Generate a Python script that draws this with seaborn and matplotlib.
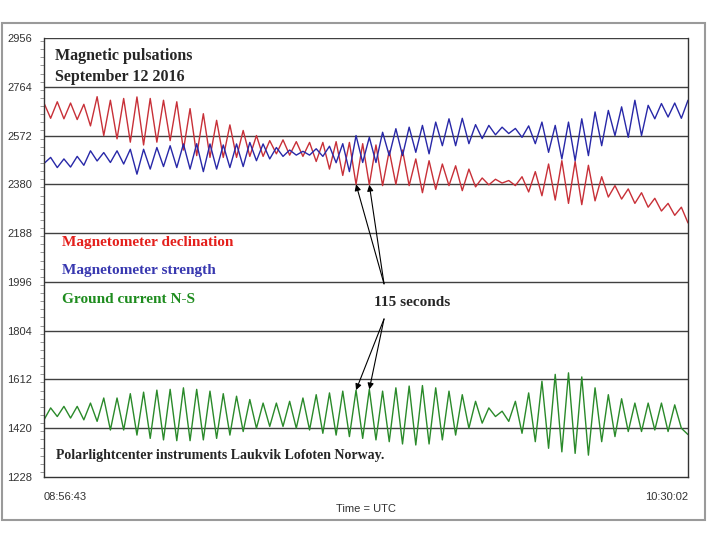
import numpy as np
import pandas as pd
import seaborn as sns
import matplotlib.pyplot as plt
from matplotlib.patches import Rectangle
from matplotlib.ticker import MultipleLocator

# Time span 08:56:43 .. 10:30:02 (seconds), one sample per half-period of the pulsation
T_START = "08:56:43"
T_END = "10:30:02"
SPAN = 5599
N_SAMPLES = 98
t = np.linspace(0, SPAN, N_SAMPLES)

# Extrema (alternating peak/trough)
declination = [
    2700, 2640, 2705, 2638, 2700, 2635, 2695, 2610, 2725, 2572,
    2711, 2559, 2718, 2546, 2724, 2535, 2718, 2546, 2711, 2552,
    2705, 2515, 2678, 2493, 2658, 2486, 2632, 2486, 2614, 2486,
    2592, 2490, 2572, 2490, 2552, 2500, 2555, 2495, 2548, 2490,
    2545, 2470, 2545, 2440, 2548, 2415, 2545, 2380, 2540, 2378,
    2535, 2375, 2512, 2380, 2515, 2375, 2480, 2347, 2473, 2360,
    2460, 2375, 2453, 2355, 2440, 2370, 2405, 2378, 2400, 2385,
    2395, 2375, 2410, 2350, 2430, 2335, 2460, 2318, 2473, 2305,
    2470, 2300, 2455, 2315, 2410, 2330, 2375, 2322, 2362, 2305,
    2347, 2290, 2325, 2275, 2305, 2258, 2290, 2228,
]
strength = [
    2462, 2486, 2446, 2480, 2448, 2490, 2455, 2512, 2472, 2505,
    2466, 2512, 2460, 2518, 2420, 2518, 2440, 2525, 2450, 2532,
    2446, 2539, 2440, 2540, 2430, 2539, 2440, 2535, 2446, 2539,
    2450, 2545, 2473, 2539, 2480, 2525, 2490, 2515, 2495, 2510,
    2495, 2520, 2490, 2530, 2465, 2540, 2430, 2572, 2466, 2565,
    2466, 2585, 2493, 2599, 2493, 2605, 2506, 2612, 2500, 2625,
    2532, 2638, 2532, 2640, 2540, 2615, 2560, 2612, 2575, 2605,
    2580, 2600, 2565, 2610, 2540, 2625, 2506, 2612, 2480, 2625,
    2473, 2638, 2493, 2665, 2532, 2671, 2572, 2685, 2565, 2711,
    2572, 2691, 2638, 2698, 2645, 2700, 2640, 2711,
]
ground_current = [
    1453, 1500, 1466, 1506, 1460, 1506, 1453, 1519, 1447, 1539,
    1413, 1539, 1413, 1556, 1393, 1562, 1380, 1570, 1374, 1573,
    1371, 1579, 1371, 1573, 1374, 1566, 1380, 1556, 1393, 1546,
    1407, 1533, 1420, 1519, 1427, 1519, 1427, 1526, 1420, 1539,
    1413, 1552, 1400, 1559, 1393, 1566, 1387, 1570, 1380, 1573,
    1374, 1566, 1367, 1579, 1358, 1586, 1354, 1588, 1358, 1579,
    1374, 1566, 1393, 1552, 1420, 1526, 1440, 1500, 1466, 1487,
    1447, 1526, 1400, 1559, 1367, 1605, 1341, 1632, 1327, 1638,
    1321, 1622, 1314, 1579, 1367, 1552, 1387, 1536, 1407, 1519,
    1407, 1519, 1413, 1519, 1407, 1512, 1420, 1395,
]

series_names = ["Magnetometer declination", "Magnetometer strength", "Ground current N-S"]
line_colors = ["#c83038", "#2828a8", "#2a8a2a"]
text_colors = ["#e4201c", "#3838b0", "#1e8c1e"]

y_ticks = list(range(1228, 2957, 192))

df = pd.concat([
    pd.DataFrame({"t": t, "value": vals, "series": name})
    for name, vals in zip(series_names, [declination, strength, ground_current])
])

sns.set_style("white")
plt.rcParams["font.family"] = ["Liberation Sans", "DejaVu Sans"]

fig = plt.figure(figsize=(7.2, 5.4), dpi=100)
ax = fig.add_axes([44 / 720, 1 - 477 / 540, 644 / 720, 439 / 540])

# outer frame of the panel
fig.patches.append(Rectangle((2 / 720, 1 - 520 / 540), 703 / 720, 497 / 540,
                             transform=fig.transFigure, fill=False,
                             edgecolor="#9a9a9a", linewidth=1.5))

for yv in y_ticks[1:]:
    ax.axhline(yv, color="#404040", linewidth=1.0, zorder=1)

sns.lineplot(data=df, x="t", y="value", hue="series", palette=dict(zip(series_names, line_colors)),
             estimator=None, sort=False, linewidth=1.0, legend=False, ax=ax, zorder=2)

ax.set_xlim(0, SPAN)
ax.set_ylim(y_ticks[0], y_ticks[-1])
ax.set_yticks(y_ticks)
ax.yaxis.set_minor_locator(MultipleLocator(32))
x_ticks = np.linspace(0, SPAN, 25)
ax.set_xticks(x_ticks)
ax.set_xticklabels([T_START] + [""] * 23 + [T_END])
ax.tick_params(axis="both", which="major", direction="out", length=5, width=0.8,
               color="#555555", labelsize=8, labelcolor="#333333")
ax.tick_params(axis="y", which="minor", direction="out", length=3, width=0.6, color="#888888", left=True)
ax.tick_params(axis="x", pad=6)
labels = ax.get_xticklabels()
labels[0].set_ha("left")
labels[-1].set_ha("right")
ax.set_xlabel("Time = UTC", fontsize=8, color="#333333", labelpad=1)
ax.set_ylabel("")

for side in ["left", "right", "bottom"]:
    ax.spines[side].set_color("#333333")
    ax.spines[side].set_linewidth(1.0)
ax.spines["top"].set_visible(False)

serif = ["Liberation Serif", "DejaVu Serif"]
ax.text(0.017, 0.978, "Magnetic pulsations\nSeptember 12 2016", transform=ax.transAxes,
        fontsize=11.5, fontweight="bold", family=serif, va="top", ha="left", linespacing=1.45)
for i, (name, col) in enumerate(zip(series_names, text_colors)):
    ax.text(0.028, 0.535 - i * 0.065, name, transform=ax.transAxes, fontsize=11,
            fontweight="bold", family=serif, color=col, va="center", ha="left")
ax.text(0.018, 0.048, "Polarlightcenter instruments Laukvik Lofoten Norway.", transform=ax.transAxes,
        fontsize=10, fontweight="bold", family=serif, va="center", ha="left")
ax.text(0.512, 0.398, "115 seconds", transform=ax.transAxes, fontsize=11,
        fontweight="bold", family=serif, va="center", ha="left")

# arrows from the label to two consecutive troughs / peaks
arrow_idx = [47, 49]
arrow_kw = dict(arrowstyle="-|>", color="black", lw=0.8, mutation_scale=9, shrinkA=0, shrinkB=0)
for k in arrow_idx:
    ax.annotate("", xy=(t[k], declination[k]), xytext=(0.528, 0.44),
                textcoords="axes fraction", arrowprops=arrow_kw)
    ax.annotate("", xy=(t[k], ground_current[k]), xytext=(0.528, 0.36),
                textcoords="axes fraction", arrowprops=arrow_kw)

fig.savefig("out.png", dpi=100)
